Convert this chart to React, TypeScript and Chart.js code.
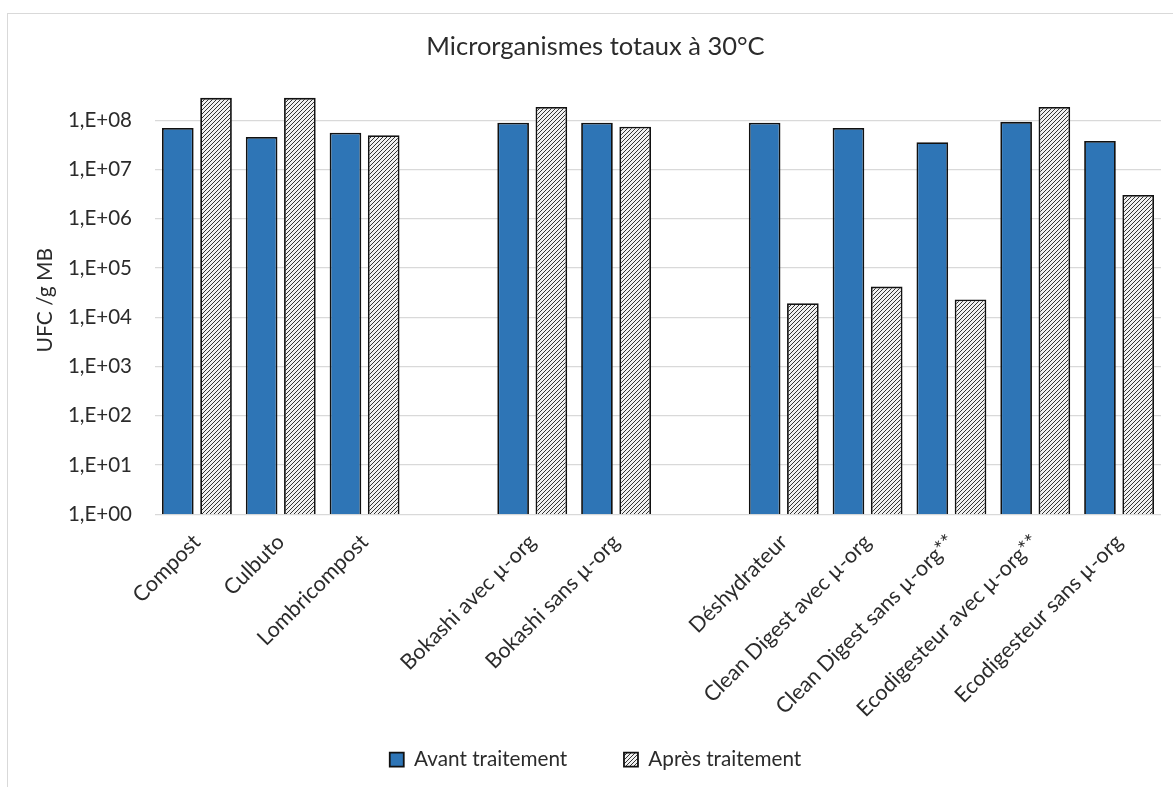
import React, { useEffect, useRef } from 'react';
import { Chart, registerables } from 'chart.js';

Chart.register(...registerables);

// ---- Data ----
const categories = [
  'Compost',
  'Culbuto',
  'Lombricompost',
  '',
  'Bokashi avec µ-org',
  'Bokashi sans µ-org',
  '',
  'Déshydrateur',
  'Clean Digest avec µ-org',
  'Clean Digest sans µ-org**',
  'Ecodigesteur avec µ-org**',
  'Ecodigesteur sans µ-org',
];

const avantTraitement = [7.0e7, 4.6e7, 5.6e7, null, 8.9e7, 8.9e7, null, 8.9e7, 7.0e7, 3.6e7, 9.3e7, 3.8e7];
const apresTraitement = [2.86e8, 2.86e8, 5.0e7, null, 1.87e8, 7.4e7, null, 1.93e4, 4.2e4, 2.3e4, 1.87e8, 3.05e6];

const seriesNames = ['Avant traitement', 'Après traitement'];

const yTickValues = [1, 10, 100, 1e3, 1e4, 1e5, 1e6, 1e7, 1e8];
const yTickLabels = ['1,E+00', '1,E+01', '1,E+02', '1,E+03', '1,E+04', '1,E+05', '1,E+06', '1,E+07', '1,E+08'];

const chartTitle = 'Microrganismes totaux à 30°C';
const yAxisTitle = 'UFC /g MB';

const FONT = 'Lato, "Open Sans", sans-serif';
const TEXT = '#2b2b2b';

function makeHatch(ctx: CanvasRenderingContext2D): CanvasPattern | string {
  const s = 4;
  const c = document.createElement('canvas');
  c.width = s;
  c.height = s;
  const p = c.getContext('2d');
  if (!p) return '#999';
  p.fillStyle = '#f0f0f0';
  p.fillRect(0, 0, s, s);
  p.strokeStyle = '#333333';
  p.lineWidth = 1;
  p.beginPath();
  p.moveTo(0, s);
  p.lineTo(s, 0);
  p.moveTo(-1, 1);
  p.lineTo(1, -1);
  p.moveTo(s - 1, s + 1);
  p.lineTo(s + 1, s - 1);
  p.stroke();
  return ctx.createPattern(c, 'repeat') || '#999';
}

export default function App() {
  const ref = useRef<HTMLCanvasElement>(null);

  useEffect(() => {
    document.body.style.margin = '0';
    const canvas = ref.current;
    if (!canvas) return;
    const ctx = canvas.getContext('2d');
    if (!ctx) return;
    const hatch = makeHatch(ctx);

    const chart = new Chart(ctx, {
      type: 'bar',
      data: {
        labels: categories,
        datasets: [
          {
            label: seriesNames[0],
            data: avantTraitement as any,
            backgroundColor: '#2E75B6',
            borderColor: '#111',
            borderWidth: 1.8,
            categoryPercentage: 0.912,
            barPercentage: 0.828,
          },
          {
            label: seriesNames[1],
            data: apresTraitement as any,
            backgroundColor: hatch as any,
            borderColor: '#111',
            borderWidth: 1.8,
            categoryPercentage: 0.912,
            barPercentage: 0.828,
          },
        ],
      },
      options: {
        responsive: false,
        animation: false,
        devicePixelRatio: 1,
        layout: { padding: { left: 30, right: 12, top: 14, bottom: 7 } },
        plugins: {
          title: {
            display: true,
            text: chartTitle,
            color: TEXT,
            font: { family: FONT, size: 25.5, weight: 'normal' },
            padding: { top: 17.7, bottom: 23.6 },
          },
          legend: {
            position: 'bottom',
            labels: {
              color: TEXT,
              font: { family: FONT, size: 20.7 },
              boxWidth: 14,
              boxHeight: 14,
              padding: 25,
              generateLabels: (c: any) => {
                const items = (Chart.defaults.plugins.legend.labels as any).generateLabels(c);
                if (items.length > 0) items[0].text = items[0].text + '\u00A0\u00A0\u00A0\u00A0\u00A0\u00A0';
                return items;
              },
            },
          },
          tooltip: { enabled: false },
        },
        scales: {
          x: {
            grid: { display: false, drawTicks: false },
            border: { display: false },
            ticks: {
              autoSkip: false,
              minRotation: 45,
              maxRotation: 45,
              padding: 15,
              color: TEXT,
              font: { family: FONT, size: 21.5 },
            },
            afterFit: (scale: any) => {
              scale.height = 210;
            },
          },
          y: {
            type: 'logarithmic',
            min: 1,
            max: 5e8,
            grid: { color: '#d9d9d9', lineWidth: 1.3, drawTicks: false },
            border: { display: false },
            afterBuildTicks: (scale: any) => {
              scale.ticks = yTickValues.map((v) => ({ value: v }));
            },
            ticks: {
              padding: 23,
              color: TEXT,
              font: { family: FONT, size: 20.5 },
              callback: (_v: any, i: number) => yTickLabels[i],
            },
            title: {
              display: true,
              text: yAxisTitle,
              color: TEXT,
              font: { family: FONT, size: 21 },
              padding: { top: 3, bottom: 0 },
            },
            afterFit: (scale: any) => {
              scale.width = 125;
            },
          },
        },
      },
    });
    return () => chart.destroy();
  }, []);

  return (
    <div style={{ position: 'relative', width: 1173, height: 787, background: '#fff', overflow: 'hidden' }}>
      <div
        style={{
          position: 'absolute',
          left: 7,
          top: 13,
          right: -10,
          bottom: -10,
          borderTop: '1px solid #d9d9d9',
          borderLeft: '1px solid #d9d9d9',
        }}
      />
      <canvas
        ref={ref}
        width={1173}
        height={787}
        style={{ position: 'absolute', left: 0, top: 0, width: 1173, height: 787 }}
      />
    </div>
  );
}
